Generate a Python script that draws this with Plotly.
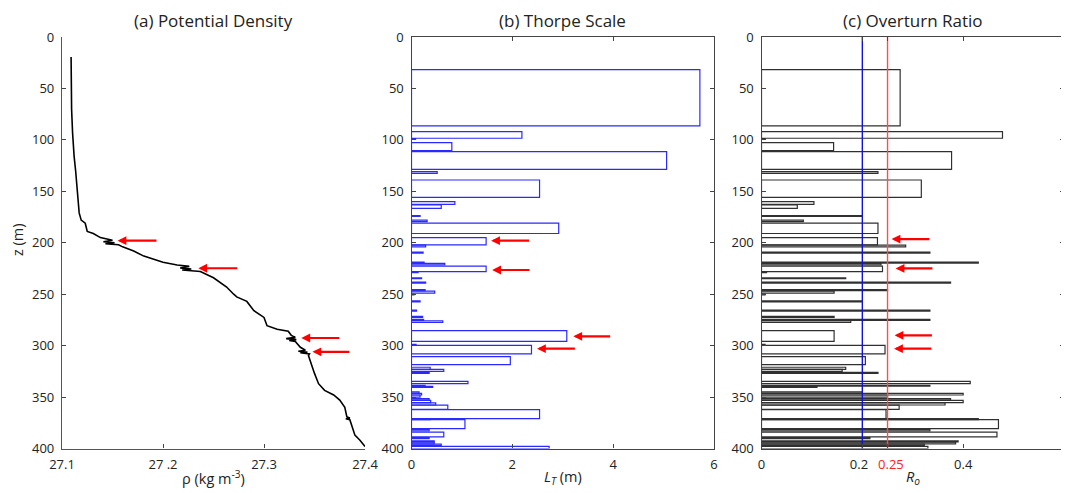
import plotly.graph_objects as go

# ---------------- data ----------------
# (a) potential density profile
rho = [27.109, 27.109, 27.109, 27.1095, 27.1105, 27.111, 27.112, 27.1135, 27.115, 27.116, 27.117,
       27.119, 27.123, 27.125, 27.131, 27.138, 27.150, 27.141, 27.152, 27.143, 27.156, 27.160,
       27.171, 27.181, 27.200, 27.214, 27.226, 27.217, 27.228, 27.219, 27.232, 27.237, 27.250,
       27.258, 27.263, 27.270, 27.273, 27.283, 27.287, 27.290, 27.300, 27.301, 27.303, 27.313,
       27.324, 27.327, 27.331, 27.322, 27.332, 27.325, 27.331, 27.336, 27.341, 27.334, 27.343,
       27.336, 27.345, 27.344, 27.347, 27.350, 27.354, 27.360, 27.369, 27.375, 27.380, 27.381,
       27.382, 27.385, 27.381, 27.385, 27.387, 27.390, 27.395, 27.400]
z_rho = [19.5, 30, 48, 70, 93.5, 105, 116, 130, 145, 160, 171,
         178, 181, 189, 191, 195, 197.5, 199, 200, 201, 202, 204,
         208, 213, 219, 221.6, 223, 224.5, 225.5, 226.5, 227.5, 228, 234,
         240, 243, 250, 252.6, 257, 262, 266, 272.6, 276, 280.6, 284,
         286, 290, 292, 293.2, 294.2, 295, 296, 301.6, 304.5, 305.5, 306.3,
         307, 308, 309.7, 319, 327, 337, 343.5, 348, 353, 360, 365,
         369, 370.5, 371, 372, 379, 387, 392, 398]

# (b), (c) overturn patches
z_top = [31.8, 91.9, 98.8, 102.6, 111.4, 130.8, 139.0, 160.0, 163.3, 173.5, 178.0, 181.0,
         195.0, 202.3, 209.2, 218.8, 220.0, 222.8, 228.2, 234.0, 238.2, 245.5, 247.0, 249.8,
         256.5, 265.5, 271.5, 274.5, 276.0, 285.5, 298.8, 299.8, 310.6, 321.0, 323.0, 326.0,
         334.8, 338.5, 339.7, 345.0, 346.5, 348.0, 351.5, 353.2, 355.7, 357.9, 362.2, 371.0,
         372.0, 381.6, 384.0, 389.5, 392.5, 393.9, 395.8, 398.0]
z_bot = [86.4, 98.4, 99.6, 110.4, 128.6, 132.5, 155.8, 162.7, 166.6, 174.5, 179.5, 191.0,
         202.0, 204.0, 210.2, 219.8, 221.6, 228.0, 229.0, 235.0, 239.2, 246.5, 249.0, 250.6,
         257.5, 266.5, 272.5, 275.5, 277.5, 295.8, 299.6, 308.0, 318.4, 323.0, 325.0, 327.0,
         337.0, 339.5, 340.7, 346.3, 348.0, 350.0, 353.0, 355.5, 357.7, 362.0, 371.0, 372.0,
         380.6, 383.0, 388.7, 390.5, 393.5, 395.5, 397.2, 400.0]
L_T = [5.72, 2.19, 0.08, 0.80, 5.06, 0.51, 2.54, 0.86, 0.59, 0.17, 0.31, 2.92,
       1.48, 0.28, 0.23, 0.25, 0.66, 1.48, 0.13, 0.20, 0.28, 0.27, 0.46, 0.05,
       0.17, 0.10, 0.22, 0.24, 0.62, 3.08, 0.09, 2.38, 1.96, 0.37, 0.64, 0.35,
       1.12, 0.27, 0.42, 0.15, 0.20, 0.17, 0.35, 0.38, 0.48, 0.72, 2.54, 0.37,
       1.06, 0.35, 0.64, 0.35, 0.45, 0.45, 0.59, 2.73]
R_o = [0.275, 0.478, 0.007, 0.143, 0.377, 0.231, 0.317, 0.104, 0.071, 0.200, 0.083, 0.231,
       0.230, 0.286, 0.334, 0.430, 0.237, 0.240, 0.010, 0.167, 0.375, 0.250, 0.144, 0.007,
       0.200, 0.334, 0.144, 0.334, 0.177, 0.144, 0.007, 0.245, 0.206, 0.167, 0.160, 0.231,
       0.414, 0.334, 0.110, 0.200, 0.400, 0.250, 0.375, 0.400, 0.364, 0.273, 0.247, 0.430,
       0.470, 0.334, 0.467, 0.215, 0.390, 0.385, 0.323, 0.330]

# red arrows: depth, tip, tail for each panel
arrow_z_a = [198, 224.8, 292.6, 306]
arrow_tip_a = [27.155, 27.235, 27.337, 27.348]
arrow_tail_a = [27.195, 27.275, 27.376, 27.386]
arrow_z_b = [198, 226.5, 291, 303]
arrow_tip_b = [1.58, 1.60, 3.21, 2.49]
arrow_tail_b = [2.36, 2.37, 3.97, 3.27]
arrow_z_c = [196.4, 225, 290, 303]
arrow_tip_c = [0.258, 0.266, 0.264, 0.263]
arrow_tail_c = [0.336, 0.342, 0.341, 0.340]

ro_lines = [0.2, 0.25]
ro_line_colors = ["#1010e0", "#ff4d4d"]

titles = ["(a) Potential Density", "(b) Thorpe Scale", "(c) Overturn Ratio"]

# ---------------- layout geometry ----------------
# the page body has an 8 px margin, so the figure starts at (8, 8) in the window
OFF = 8
W, H = 1069 - OFF, 493 - OFF
FONT = "Open Sans, Lato, sans-serif"


def px_x(p):
    return (p - OFF) / W


def px_y(p):
    return 1 - (p - OFF) / H


dom_a = [px_x(62), px_x(365)]
dom_b = [px_x(411.5), px_x(714)]
dom_c = [px_x(761.5), px_x(1064)]
dom_y = [px_y(448.5), px_y(37)]

fig = go.Figure()

# (a)
fig.add_trace(go.Scatter(x=rho, y=z_rho, mode="lines", line=dict(color="black", width=1.6),
                         xaxis="x", yaxis="y", showlegend=False))

# (b)
centers = [(t + b) / 2 for t, b in zip(z_top, z_bot)]
heights = [b - t for t, b in zip(z_top, z_bot)]
fig.add_trace(go.Bar(x=L_T, y=centers, width=heights, base=0, orientation="h",
                     marker=dict(color="rgba(0,0,0,0)", line=dict(color="#2a2aff", width=1.2)),
                     xaxis="x2", yaxis="y2", showlegend=False))
# (c)
fig.add_trace(go.Bar(x=R_o, y=centers, width=heights, base=0, orientation="h",
                     marker=dict(color="rgba(0,0,0,0)", line=dict(color="#303030", width=1.2)),
                     xaxis="x3", yaxis="y3", showlegend=False))
for v, c in zip(ro_lines, ro_line_colors):
    fig.add_trace(go.Scatter(x=[v, v], y=[0, 400], mode="lines", line=dict(color=c, width=1.4),
                             xaxis="x3", yaxis="y3", showlegend=False))

annotations = []
for axn, zs, tips, tails in [("", arrow_z_a, arrow_tip_a, arrow_tail_a),
                             ("2", arrow_z_b, arrow_tip_b, arrow_tail_b),
                             ("3", arrow_z_c, arrow_tip_c, arrow_tail_c)]:
    for zz, tp, tl in zip(zs, tips, tails):
        annotations.append(dict(x=tp, y=zz, ax=tl, ay=zz, xref="x" + axn, yref="y" + axn,
                                axref="x" + axn, ayref="y" + axn, text="", showarrow=True,
                                arrowhead=2, arrowsize=0.8, arrowwidth=2.2, arrowcolor="#ff0000"))

for t, d in zip(titles, [dom_a, dom_b, dom_c]):
    annotations.append(dict(text=t, x=(d[0] + d[1]) / 2, y=px_y(8), xref="paper", yref="paper",
                            showarrow=False, font=dict(size=17, color="#222", family=FONT),
                            xanchor="center", yanchor="top", borderpad=0))

xlabels = ["ρ (kg m<sup>-3</sup>)", "<i>L</i><sub><i>T</i></sub> (m)", "<i>R</i><sub><i>o</i></sub>"]
for t, d in zip(xlabels, [dom_a, dom_b, dom_c]):
    annotations.append(dict(text=t, x=(d[0] + d[1]) / 2, y=px_y(477), xref="paper", yref="paper",
                            showarrow=False, font=dict(size=14.5, color="#222", family=FONT),
                            xanchor="center", yanchor="middle"))
annotations.append(dict(text="z (m)", x=px_x(17), y=px_y(240), xref="paper", yref="paper",
                        showarrow=False, textangle=-90, font=dict(size=14.5, color="#222", family=FONT),
                        xanchor="center", yanchor="middle"))

tickfont = dict(size=13, color="#222", family=FONT)
yax = dict(range=[400, 0], tickvals=[0, 50, 100, 150, 200, 250, 300, 350, 400], ticks="inside",
           ticklen=4, tickcolor="#444", showline=True, linecolor="#555", linewidth=1.2,
           showgrid=False, zeroline=False, tickfont=tickfont, domain=dom_y, ticklabelstandoff=4,
           automargin=False)
xcommon = dict(ticks="inside", ticklen=4, tickcolor="#444", showline=True, linewidth=1.2,
               showgrid=False, zeroline=False, tickfont=tickfont, automargin=False, tickangle=0,
               ticklabelstandoff=4)

fig.update_layout(
    template="none",
    width=W, height=H, margin=dict(l=0, r=0, t=0, b=0, pad=0),
    paper_bgcolor="white", plot_bgcolor="white", barmode="overlay",
    font=dict(family=FONT),
    xaxis=dict(xcommon, domain=dom_a, range=[27.1, 27.4], tickvals=[27.1, 27.2, 27.3, 27.4],
               ticktext=["27.1", "27 .2", "27.3", "27.4"], linecolor="#555", anchor="y"),
    yaxis=dict(yax, anchor="x"),
    xaxis2=dict(xcommon, domain=dom_b, range=[0, 6], tickvals=[0, 2, 4, 6], linecolor="#444",
                mirror="ticks", anchor="y2"),
    yaxis2=dict(yax, anchor="x2", mirror="ticks", linecolor="#444"),
    xaxis3=dict(xcommon, domain=dom_c, range=[0, 0.6], tickvals=[0, 0.2, 0.25, 0.4, 0.6],
                ticktext=["0", "0.2  ", "  <span style='color:#ff2020'>0.25</span>", "0.4", "0.6"],
                linecolor="#444", mirror="ticks", anchor="y3"),
    yaxis3=dict(yax, anchor="x3", mirror="ticks", linecolor="#444"),
    annotations=annotations,
)

fig.write_html("out.html")
